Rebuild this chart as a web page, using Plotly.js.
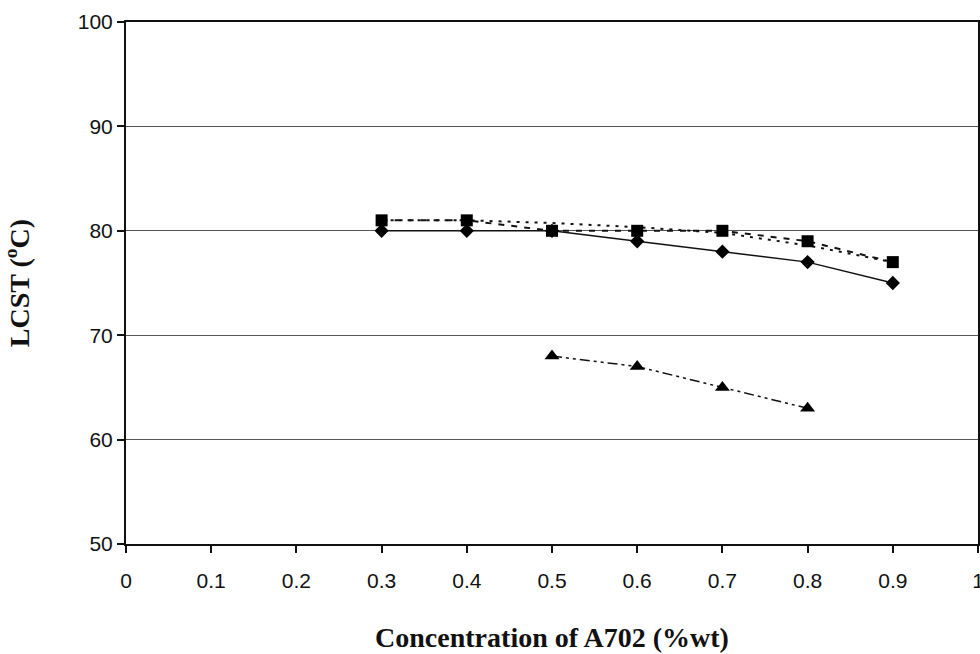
<!DOCTYPE html>
<html><head><meta charset="utf-8">
<script src="https://cdn.plot.ly/plotly-3.0.1.min.js"></script>
<style>html,body{margin:0;padding:0;background:#fff;}</style>
</head><body>
<div id="chart" style="width:980px;height:654px;"></div>
<script>
var conc = [0.3, 0.4, 0.5, 0.6, 0.7, 0.8, 0.9];
var diamondSeries = [80, 80, 80, 79, 78, 77, 75];
var squareSeries = [81, 81, 80, 80, 80, 79, 77];
var dottedSeries = [81, 81, 80.75, 80.35, 79.8, 78.6, 77];
var concTri = [0.5, 0.6, 0.7, 0.8];
var triangleSeries = [68, 67, 65, 63];
var xTicks = [0, 0.1, 0.2, 0.3, 0.4, 0.5, 0.6, 0.7, 0.8, 0.9, 1];
var xTickText = ['0', '0.1', '0.2', '0.3', '0.4', '0.5', '0.6', '0.7', '0.8', '0.9', '1'];
var yTicks = [50, 60, 70, 80, 90, 100];

var traces = [
  {x: conc, y: dottedSeries, mode: 'lines', line: {color: '#111', width: 2, dash: '3px,6px'}, hoverinfo: 'skip'},
  {x: conc, y: diamondSeries, mode: 'lines+markers', line: {color: '#111', width: 1.5},
   marker: {symbol: 'diamond', size: 11, color: '#000'}},
  {x: conc, y: squareSeries, mode: 'lines+markers', line: {color: '#111', width: 2, dash: '6px,7px'},
   marker: {symbol: 'square', size: 12, color: '#000'}},
  {x: concTri, y: triangleSeries, mode: 'lines+markers', line: {color: '#111', width: 1.5, dash: '10px,4px,3px,4px,3px,4px'},
   marker: {symbol: 'triangle-up', size: 13, color: '#000'}}
];

var layout = {
  width: 980, height: 654,
  margin: {l: 126, r: 2, t: 22, b: 110},
  paper_bgcolor: '#fff', plot_bgcolor: '#fff',
  showlegend: false,
  xaxis: {
    range: [0, 1], tickvals: xTicks, ticktext: xTickText,
    showgrid: false, zeroline: false,
    showline: true, linecolor: '#111', linewidth: 2, mirror: true,
    ticks: 'outside', ticklen: 7, tickwidth: 2, tickcolor: '#111',
    ticklabeloverflow: 'allow', ticklabelstandoff: 10,
    tickfont: {family: 'Liberation Sans, Arial, sans-serif', size: 21, color: '#111'},
    title: {text: 'Concentration of A702 (%wt)', standoff: 36,
      font: {family: 'Liberation Serif, Times New Roman, serif', size: 28, color: '#111', weight: 'bold'}}
  },
  yaxis: {
    range: [50, 100], tickvals: yTicks,
    showgrid: true, gridcolor: '#555', gridwidth: 1, zeroline: false,
    showline: true, linecolor: '#111', linewidth: 2, mirror: true,
    ticks: 'outside', ticklen: 7, tickwidth: 2, tickcolor: '#111',
    tickfont: {family: 'Liberation Sans, Arial, sans-serif', size: 21, color: '#111'},
    title: {text: 'LCST (<sup>o</sup>C)', standoff: 40,
      font: {family: 'Liberation Serif, Times New Roman, serif', size: 28, color: '#111', weight: 'bold'}}
  }
};
Plotly.newPlot('chart', traces, layout, {displayModeBar: false, staticPlot: true});
</script>
</body></html>
